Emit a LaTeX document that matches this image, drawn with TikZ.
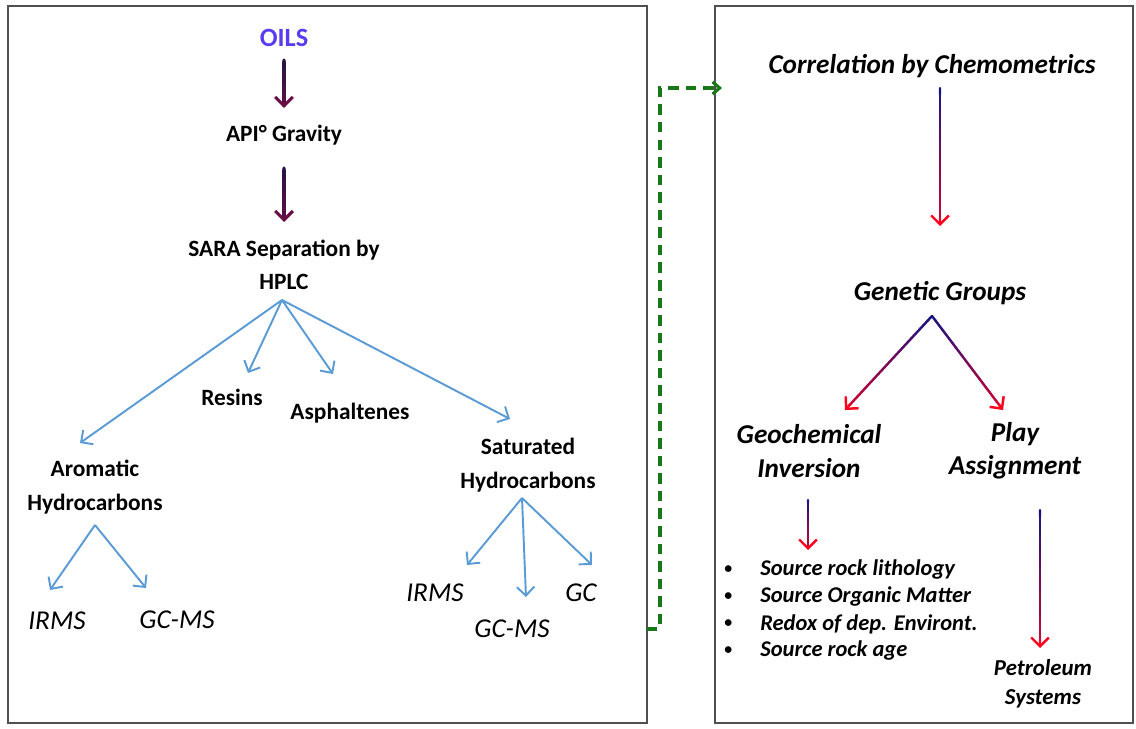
\documentclass[tikz,border=0pt]{standalone}
\usepackage{fontspec}
\setmainfont{Carlito}
\usetikzlibrary{arrows.meta,calc}

\definecolor{oilsblue}{RGB}{90,60,240}
\definecolor{plumtop}{RGB}{40,20,70}
\definecolor{plumend}{RGB}{105,15,70}
\definecolor{skyline}{RGB}{91,155,213}
\definecolor{navyline}{RGB}{25,20,130}
\definecolor{redline}{RGB}{255,0,30}
\definecolor{linkgreen}{RGB}{25,120,25}
\definecolor{framegray}{RGB}{80,80,80}

% shaft shaded from #2 to #3 in short pieces, head in #3
\newcommand{\gradarrow}[5][1.4pt]{%
  \foreach \k in {0,...,19}{%
    \pgfmathsetmacro\pa{\k*0.95/20}%
    \pgfmathsetmacro\pb{(\k+1)*0.95/20}%
    \pgfmathtruncatemacro\mixval{100-4*\k}%
    \draw[line width=#1, line cap=round, draw=#2!\mixval!#3]
      ($(#4)!\pa!(#5)$) -- ($(#4)!\pb!(#5)$);
  }%
  \draw[line width=#1, draw=#3, -{Straight Barb[length=5pt,width=10pt]}]
    ($(#4)!0.94!(#5)$) -- (#5);}

\begin{document}
\begin{tikzpicture}[
        x=0.02cm, y=-0.02cm,
        panel/.style={draw=framegray, line width=1.1pt, inner sep=0pt,
                      outer sep=0pt},
        lbl/.style={font=\bfseries\fontsize{13.3}{19}\selectfont, align=center},
        tech/.style={font=\itshape\fontsize{15.5}{18}\selectfont},
        rlbl/.style={font=\bfseries\itshape\fontsize{15.5}{19}\selectfont,
                     align=center},
        entry/.style={font=\bfseries\itshape\fontsize{12.8}{14}\selectfont,
                      anchor=west, inner sep=0pt},
        branch/.style={draw=skyline, line width=1.1pt,
                       -{Straight Barb[length=5pt,width=10pt]}},
        link/.style={draw=linkgreen, line width=1.8pt,
                     dash pattern=on 6pt off 4pt,
                     -{Straight Barb[length=4pt,width=7pt]}},
      ]
        \useasboundingbox (0,0) rectangle (1136,729);

        % frames
        \node[panel, minimum width=12.78cm, minimum height=14.34cm]
          (leftpanel) at (327.5,364.5) {};
        \node[panel, minimum width=8.36cm, minimum height=14.34cm]
          (rightpanel) at (924,364.5) {};

        % left column
        \node[lbl, text=oilsblue, font=\bfseries\fontsize{15}{18}\selectfont]
          (oils) at (284,38) {OILS};
        \node[lbl] (api) at (284,135) {API° Gravity};
        \node[lbl] (sara) at (284,265) {SARA Separation by\\HPLC};
        \node[lbl] (resins) at (232,397) {Resins};
        \node[lbl] (asph) at (350,413) {Asphaltenes};
        \node[lbl] (aro) at (95,487) {Aromatic\\Hydrocarbons};
        \node[lbl] (sat) at (528,465) {Saturated\\Hydrocarbons};

        \node[tech] (irmsA) at (57,621) {IRMS};
        \node[tech] (gcmsA) at (177,620) {GC-MS};
        \node[tech] (irmsS) at (435,593) {IRMS};
        \node[tech] (gcmsS) at (512,629) {GC-MS};
        \node[tech] (gcS) at (581,593) {GC};

        \coordinate (oilsOut) at (284,60);
        \coordinate (apiIn) at (284,108);
        \coordinate (apiOut) at (284,168);
        \coordinate (saraIn) at (284,222);
        \gradarrow[1.8pt]{plumtop}{plumend}{oilsOut}{apiIn}
        \gradarrow[1.8pt]{plumtop}{plumend}{apiOut}{saraIn}

        \coordinate (saraFork) at (282,300);
        \coordinate (aroTip) at (80,443);
        \coordinate (resTip) at (248,373);
        \coordinate (asphTip) at (333,374);
        \coordinate (satTip) at (510,419);
        \foreach \t in {aroTip,resTip,asphTip,satTip}
          \draw[branch] (saraFork) -- (\t);

        \coordinate (aroFork) at (95,525);
        \draw[branch] (aroFork) -- (50,590);
        \draw[branch] (aroFork) -- (146,588);

        \coordinate (satFork) at (522,498);
        \draw[branch] (satFork) -- (467,565);
        \draw[branch] (satFork) -- (526,597);
        \draw[branch] (satFork) -- (592,565);

        % right column
        \node[rlbl] (corr) at (932,66) {Correlation by Chemometrics};
        \node[rlbl] (gen) at (940,293) {Genetic Groups};
        \node[rlbl] (geo) at (809,451) {Geochemical\\Inversion};
        \node[rlbl] (play) at (1015,451) {Play\\Assignment};
        \node[rlbl, font=\bfseries\itshape\fontsize{13}{16.5}\selectfont]
          (petro) at (1043,684) {Petroleum\\Systems};

        \foreach \y/\txt in {570/Source rock lithology,
                             597/Source Organic Matter,
                             624/Redox of dep. Environt.,
                             651/Source rock age} {
          \node[entry, font=\bfseries\fontsize{9}{12}\selectfont]
            at (724,\y) {•};
          \node[entry] at (760,\y) {\txt};
        }

        \coordinate (corrOut) at (940,88);
        \coordinate (genIn) at (940,226);
        \gradarrow{navyline}{redline}{corrOut}{genIn}
        \coordinate (genFork) at (932,316);
        \coordinate (geoIn) at (845,410);
        \coordinate (playIn) at (1003,410);
        \gradarrow{navyline}{redline}{genFork}{geoIn}
        \gradarrow{navyline}{redline}{genFork}{playIn}
        \coordinate (geoOut) at (808,500);
        \coordinate (listIn) at (808,550);
        \gradarrow{navyline}{redline}{geoOut}{listIn}
        \coordinate (playOut) at (1040,510);
        \coordinate (petroIn) at (1040,648);
        \gradarrow{navyline}{redline}{playOut}{petroIn}

        % link between the frames
        \coordinate (linkEnd) at (722,88);
        \draw[link] (gcmsS.east -| leftpanel.east) -- ++(13,0) |- (linkEnd);
      \end{tikzpicture}
\end{document}
